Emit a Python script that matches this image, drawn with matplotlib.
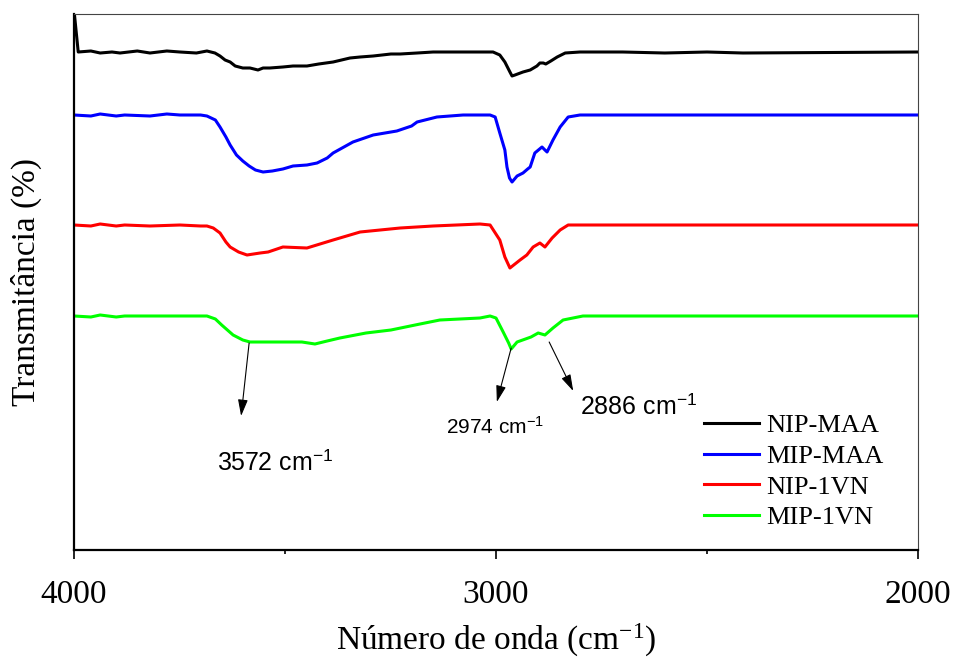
import matplotlib
matplotlib.use("Agg")
import matplotlib.pyplot as plt
from matplotlib.ticker import MultipleLocator, NullLocator

plt.rcParams['mathtext.fontset'] = 'custom'
plt.rcParams['mathtext.rm'] = 'Liberation Serif'
plt.rcParams['mathtext.it'] = 'Liberation Serif:italic'
plt.rcParams['mathtext.sf'] = 'Liberation Sans'

# espectros FTIR (unidades arbitrarias, curvas deslocadas)
wn_nip_maa = [4000, 3990, 3960, 3938, 3910, 3891, 3850, 3820, 3780, 3749, 3710, 3685, 3666, 3654,
              3642, 3630, 3618, 3600, 3583, 3564, 3552, 3536, 3505, 3481, 3448, 3420, 3386, 3346,
              3322, 3291, 3249, 3227, 3187, 3149, 3078, 3038, 3007, 2991, 2979, 2967, 2962, 2955,
              2936, 2919, 2903, 2896, 2888, 2882, 2870, 2855, 2836, 2801, 2700, 2600, 2500, 2415,
              2000]
t_nip_maa = [540, 498, 499, 497, 498, 497, 499, 497, 499, 498, 497, 499, 497, 494,
             490, 488, 484, 482, 482, 480, 482, 482, 483, 484, 484, 486, 488, 492,
             493, 494, 496, 496, 497, 498, 498, 498, 498, 495, 488, 478, 474, 475,
             478, 480, 484, 487, 487, 486, 489, 493, 497, 498, 498, 497, 498, 497,
             498]

wn_mip_maa = [4000, 3960, 3938, 3900, 3880, 3820, 3780, 3749, 3700, 3685, 3665, 3654, 3640, 3630,
              3615, 3600, 3585, 3570, 3552, 3530, 3505, 3481, 3448, 3424, 3400, 3386, 3339, 3291,
              3235, 3200, 3187, 3140, 3078, 3014, 3002, 2991, 2979, 2974, 2968, 2962, 2950, 2936,
              2925, 2919, 2908, 2891, 2884, 2879, 2865, 2848, 2829, 2801, 2000]
t_mip_maa = [435, 434, 436, 434, 435, 434, 436, 435, 435, 434, 430, 423, 413, 405,
             395, 389, 384, 380, 378, 379, 381, 384, 385, 387, 392, 397, 408, 415,
             419, 424, 428, 433, 435, 435, 433, 417, 400, 383, 372, 368, 374, 377,
             381, 383, 397, 403, 400, 398, 410, 423, 433, 435, 435]

wn_nip_1vn = [4000, 3960, 3938, 3900, 3880, 3820, 3749, 3700, 3685, 3670, 3654, 3640, 3630, 3610,
              3590, 3559, 3540, 3505, 3448, 3386, 3322, 3227, 3149, 3038, 3014, 2991, 2979, 2967,
              2943, 2927, 2912, 2896, 2884, 2867, 2848, 2829, 2000]
t_nip_1vn = [325, 324, 326, 324, 325, 324, 325, 324, 324, 322, 317, 308, 303, 298,
             295, 297, 298, 303, 302, 310, 318, 322, 324, 326, 325, 310, 293, 282,
             290, 295, 303, 307, 303, 312, 320, 325, 325]

wn_mip_1vn = [4000, 3960, 3938, 3900, 3880, 3820, 3749, 3685, 3665, 3650, 3623, 3600, 3583, 3550,
              3505, 3460, 3429, 3400, 3370, 3308, 3249, 3180, 3133, 3038, 3014, 3000, 2983, 2970,
              2964, 2950, 2917, 2900, 2884, 2865, 2841, 2794, 2000]
t_mip_1vn = [234, 233, 235, 233, 234, 234, 234, 234, 231, 225, 215, 210, 208, 208,
             208, 208, 206, 209, 212, 217, 220, 226, 230, 232, 234, 232, 218, 207,
             201, 208, 213, 217, 215, 222, 230, 234, 234]

labels = ['NIP-MAA', 'MIP-MAA', 'NIP-1VN', 'MIP-1VN']
colors = ['black', '#0000ff', '#ff0000', '#00ff00']

# picos marcados: (texto, ponta da seta, inicio da seta, posicao do texto, tamanho)
peaks = [('3572', (3604, 134), (3585, 207), (3661, 80), 18),
         ('2974', (2998, 148), (2964, 202), (3118, 116), 15),
         ('2886', (2817, 159), (2874, 208), (2801, 136), 18)]

fig = plt.figure(figsize=(9.55, 6.59), dpi=100)
ax = fig.add_axes([74/955, 109/659, 844/955, 536/659])

series = [(wn_nip_maa, t_nip_maa), (wn_mip_maa, t_mip_maa),
          (wn_nip_1vn, t_nip_1vn), (wn_mip_1vn, t_mip_1vn)]
for (x, y), lab, c in zip(series, labels, colors):
    ax.plot(x, y, color=c, lw=2.2, label=lab)

for txt, head, tail, pos, fs in peaks:
    ax.annotate('', xy=head, xytext=tail,
                arrowprops=dict(arrowstyle='-|>,head_length=1.0,head_width=0.3',
                                color='black', lw=0.8, shrinkA=0, shrinkB=0))
    ax.text(pos[0], pos[1], txt + r' cm$^{\mathsf{-1}}$', fontsize=fs,
            family='Liberation Sans', ha='left', va='baseline')

ax.set_xlim(4000, 2000)
ax.set_ylim(0, 536)
ax.xaxis.set_major_locator(MultipleLocator(1000))
ax.xaxis.set_minor_locator(MultipleLocator(500))
ax.yaxis.set_major_locator(NullLocator())
ax.tick_params(axis='x', which='major', direction='out', length=6.5, width=1.2, pad=15,
               labelsize=24, labelfontfamily='Liberation Serif')
ax.tick_params(axis='x', which='minor', direction='out', length=3, width=1.2)

for s in ['left', 'bottom']:
    ax.spines[s].set_linewidth(1.6)
    ax.spines[s].set_color('black')
for s in ['top', 'right']:
    ax.spines[s].set_linewidth(0.8)
    ax.spines[s].set_color('#444444')

ax.set_xlabel(r'Número de onda (cm$^{-1}$)', fontsize=24, family='Liberation Serif', labelpad=8)
ax.set_ylabel('Transmitância (%)', fontsize=24, family='Liberation Serif', labelpad=23)

leg = ax.legend(loc='upper left', bbox_to_anchor=(704/955, (659-414)/659),
                bbox_transform=fig.transFigure, frameon=False, borderpad=0, borderaxespad=0,
                handlelength=2.1, handletextpad=0.27, labelspacing=0.27,
                prop={'family': 'Liberation Serif', 'size': 19})

fig.savefig('out.png', dpi=100)
